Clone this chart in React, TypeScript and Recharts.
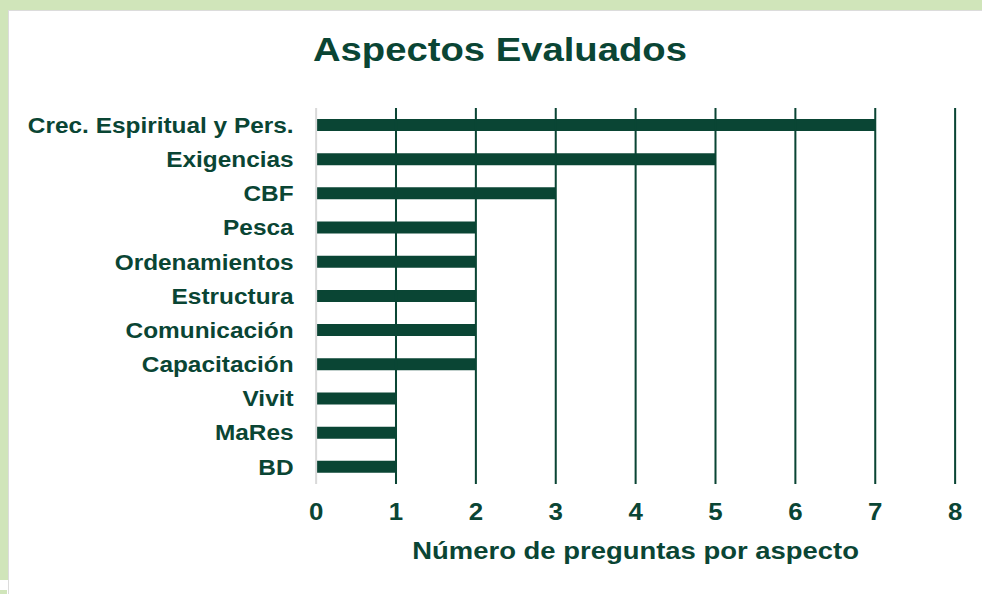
import React from 'react';
import { BarChart, Bar, XAxis, YAxis, ReferenceLine } from 'recharts';

const categories = [
  'Crec. Espiritual y Pers.',
  'Exigencias',
  'CBF',
  'Pesca',
  'Ordenamientos',
  'Estructura',
  'Comunicación',
  'Capacitación',
  'Vivit',
  'MaRes',
  'BD',
];
const values = [7, 5, 3, 2, 2, 2, 2, 2, 1, 1, 1];
const xTicks = [0, 1, 2, 3, 4, 5, 6, 7, 8];
const gridValues = [1, 2, 3, 4, 5, 6, 7, 8];
const chartTitle = 'Aspectos Evaluados';
const xAxisTitle = 'Número de preguntas por aspecto';

const data = categories.map((name, i) => ({ name, value: values[i] }));

const DARK = '#0a4534';
const GREEN_FRAME = '#d0e5ba';
const FONT = '"Liberation Sans", Arial, Helvetica, sans-serif';
const SX = 1.125;
const W = 873;
const H = 594;

export default function App() {
  return (
    <div
      style={{
        position: 'absolute',
        left: 0,
        top: 0,
        width: 982,
        height: 594,
        background: '#ffffff',
        overflow: 'hidden',
      }}
    >
      <div style={{ position: 'absolute', left: 0, top: 0, width: 982, height: 10, background: GREEN_FRAME }} />
      <div style={{ position: 'absolute', left: 0, top: 0, width: 8, height: 580, background: GREEN_FRAME }} />
      <div style={{ position: 'absolute', left: 0, top: 590, width: 7, height: 4, background: GREEN_FRAME }} />
      <div style={{ position: 'absolute', left: 8, top: 10, width: 974, height: 1, background: '#dcdcdc' }} />
      <div style={{ position: 'absolute', left: 8, top: 10, width: 1, height: 584, background: '#dcdcdc' }} />

      <div
        style={{
          position: 'absolute',
          left: 0,
          top: 0,
          width: W,
          height: H,
          transform: `scaleX(${SX})`,
          transformOrigin: '0 0',
        }}
      >
        <BarChart
          width={W}
          height={H}
          layout="vertical"
          data={data}
          margin={{ top: 108, right: 24, bottom: 80, left: 0 }}
        >
          <XAxis
            type="number"
            domain={[0, 8]}
            ticks={xTicks}
            interval={0}
            axisLine={false}
            tickLine={false}
            tickSize={0}
            tickMargin={20}
            height={30}
            tick={{ fill: DARK, fontSize: 23, fontWeight: 700, fontFamily: FONT }}
            label={{
              value: xAxisTitle,
              position: 'bottom',
              offset: 27.5,
              fill: DARK,
              fontSize: 24.4,
              fontWeight: 700,
              fontFamily: FONT,
            }}
          />
          <YAxis
            type="category"
            dataKey="name"
            width={281}
            interval={0}
            axisLine={{ stroke: '#d9d9d9', strokeWidth: 1.8 }}
            tickLine={false}
            tickSize={0}
            tickMargin={20}
            tick={{ fill: DARK, fontSize: 21.7, fontWeight: 700, fontFamily: FONT }}
          />
          {gridValues.map((v) => (
            <ReferenceLine key={v} x={v} stroke={DARK} strokeWidth={1.8} ifOverflow="visible" />
          ))}
          <Bar dataKey="value" fill={DARK} barSize={12} isAnimationActive={false} />
        </BarChart>
        <svg
          width={W}
          height={H}
          style={{ position: 'absolute', left: 0, top: 0, pointerEvents: 'none' }}
        >
          <text
            x={444.4}
            y={61}
            textAnchor="middle"
            fill={DARK}
            fontSize={34}
            fontWeight={700}
            fontFamily={FONT}
          >
            {chartTitle}
          </text>
        </svg>
      </div>
    </div>
  );
}
